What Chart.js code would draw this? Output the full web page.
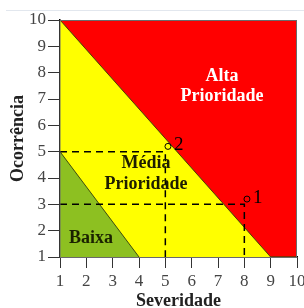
<!DOCTYPE html>
<html>
<head>
<meta charset="utf-8">
<script src="https://cdn.jsdelivr.net/npm/chart.js@4/dist/chart.umd.min.js"></script>
<style>
  html, body { margin: 0; padding: 0; background: #fff; }
  #wrap { width: 304px; height: 308px; }
</style>
</head>
<body>
<div id="wrap"><canvas id="riskChart"></canvas></div>
<script>
// ------------------- DATA -------------------
const xTicks = [1, 2, 3, 4, 5, 6, 7, 8, 9, 10];
const yTicks = [1, 2, 3, 4, 5, 6, 7, 8, 9, 10];

// zone boundaries (severidade, ocorrência)
const highBoundary = [{x: 1, y: 10}, {x: 9, y: 1}, {x: 10, y: 1}];
const lowBoundary = [{x: 1, y: 5}, {x: 4, y: 1}];

// evaluated items
const itemNames = ["1", "2"];
const itemPoints = [{x: 8.1, y: 3.2}, {x: 5.1, y: 5.2}];
const guide1 = [{x: 1, y: 3}, {x: 8, y: 3}, {x: 8, y: 1}];
const guide2 = [{x: 1, y: 5}, {x: 5, y: 5}, {x: 5, y: 1}];

// zone captions
const zoneLabels = [
  {text: "Alta", x: 7.15, y: 7.87, color: "#ffffff"},
  {text: "Prioridade", x: 7.15, y: 7.11, color: "#ffffff"},
  {text: "Média", x: 4.27, y: 4.57, color: "#1e1e00"},
  {text: "Prioridade", x: 4.27, y: 3.77, color: "#1e1e00"},
  {text: "Baixa", x: 2.18, y: 1.72, color: "#1a2200"}
];

const serif = "'Liberation Serif', 'DejaVu Serif', serif";

// ------------------- PLUGINS -------------------
const textPlugin = {
  id: "zoneText",
  afterDatasetsDraw(chart) {
    const {ctx, scales: {x, y}} = chart;
    ctx.save();
    ctx.font = "bold 18px " + serif;
    ctx.textAlign = "center";
    ctx.textBaseline = "middle";
    zoneLabels.forEach(l => {
      ctx.fillStyle = l.color;
      ctx.fillText(l.text, x.getPixelForValue(l.x), y.getPixelForValue(l.y));
    });
    ctx.font = "19px " + serif;
    ctx.fillStyle = "#000";
    ctx.textAlign = "left";
    itemPoints.forEach((p, i) => {
      ctx.fillText(itemNames[i], x.getPixelForValue(p.x) + 6, y.getPixelForValue(p.y) - 1);
    });
    ctx.restore();
  }
};

const framePlugin = {
  id: "frame",
  beforeDraw(chart) {
    const ctx = chart.ctx;
    ctx.save();
    ctx.strokeStyle = "#e2e7ee";
    ctx.lineWidth = 1;
    ctx.beginPath();
    ctx.moveTo(6, 10.5);
    ctx.lineTo(304, 10.5);
    ctx.stroke();
    ctx.restore();
  },
  afterDatasetsDraw(chart) {
    const {ctx, chartArea: a} = chart;
    ctx.save();
    ctx.strokeStyle = "#6a6a6a";
    ctx.lineWidth = 1;
    ctx.strokeRect(a.left, a.top + 0.5, a.right - a.left - 0.5, a.bottom - a.top);
    ctx.restore();
  }
};

// ------------------- CHART -------------------
new Chart(document.getElementById("riskChart"), {
  type: "scatter",
  data: {
    datasets: [
      {
        data: itemPoints,
        pointRadius: 3,
        pointBorderWidth: 1,
        pointBorderColor: "#000",
        pointBackgroundColor: "rgba(0,0,0,0)",
        showLine: false,
        order: 0
      },
      {
        data: guide1,
        showLine: true,
        borderColor: "#000",
        borderWidth: 1.5,
        borderDash: [7, 5],
        pointRadius: 0,
        fill: false,
        order: 1
      },
      {
        data: guide2,
        showLine: true,
        borderColor: "#000",
        borderWidth: 1.5,
        borderDash: [7, 5],
        pointRadius: 0,
        fill: false,
        order: 1
      },
      {
        data: lowBoundary,
        showLine: true,
        borderColor: "#3d4a10",
        borderWidth: 1,
        pointRadius: 0,
        backgroundColor: "#8dc021",
        fill: "start",
        order: 2
      },
      {
        data: highBoundary,
        showLine: true,
        borderColor: "#5a3a00",
        borderWidth: 1,
        pointRadius: 0,
        backgroundColor: "#ffff00",
        fill: "start",
        order: 3
      },
      {
        data: highBoundary,
        showLine: true,
        borderColor: "#5a3a00",
        borderWidth: 1,
        pointRadius: 0,
        backgroundColor: "#ff0000",
        fill: "end",
        order: 3
      }
    ]
  },
  options: {
    responsive: true,
    maintainAspectRatio: false,
    animation: false,
    layout: { padding: { top: 20, right: 0, left: 0, bottom: 0 } },
    plugins: {
      legend: { display: false },
      tooltip: { enabled: false }
    },
    scales: {
      x: {
        type: "linear",
        min: 1,
        max: 10,
        afterBuildTicks: s => { s.ticks = xTicks.map(v => ({value: v})); },
        afterFit: s => { s.height = 51; s.paddingLeft = 0; s.paddingRight = 7; },
        ticks: { color: "#444", font: { family: serif, size: 17 }, padding: 3, maxRotation: 0 },
        grid: { drawOnChartArea: false, tickLength: 11, color: "#333", tickWidth: 1 },
        border: { color: "#000", width: 1.5 },
        title: {
          display: true,
          text: "Severidade",
          color: "#222",
          font: { family: serif, size: 18, weight: "bold" },
          padding: { top: 0, bottom: -4 }
        }
      },
      y: {
        type: "linear",
        min: 1,
        max: 10,
        afterBuildTicks: s => { s.ticks = yTicks.map(v => ({value: v})); },
        afterFit: s => { s.width = 60; },
        ticks: { color: "#444", font: { family: serif, size: 17 }, padding: 2 },
        grid: { drawOnChartArea: false, tickLength: 12, color: "#333", tickWidth: 1 },
        border: { color: "#000", width: 1.5 },
        title: {
          display: true,
          text: "Ocorrência",
          color: "#222",
          font: { family: serif, size: 18, weight: "bold" },
          padding: { top: 8, bottom: 0 }
        }
      }
    }
  },
  plugins: [framePlugin, textPlugin]
});
</script>
</body>
</html>
